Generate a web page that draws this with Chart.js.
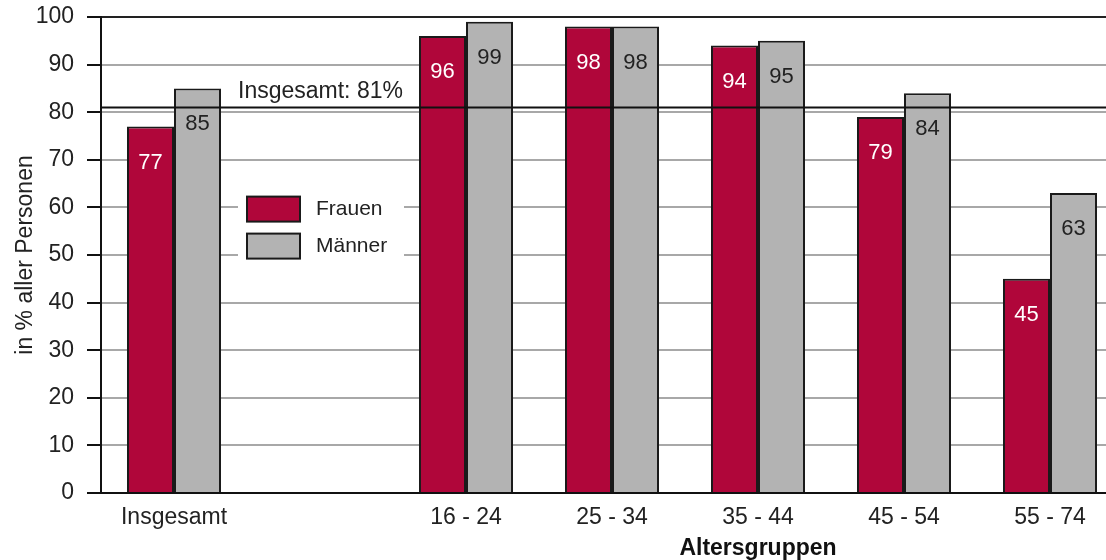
<!DOCTYPE html>
<html>
<head>
<meta charset="utf-8">
<script src="https://cdn.jsdelivr.net/npm/chart.js@4.4.0/dist/chart.umd.min.js"></script>
<style>
  html, body { margin: 0; padding: 0; background: #fff; overflow: hidden; }
  #wrap { width: 1124px; height: 560px; }
</style>
</head>
<body>
<div id="wrap"><canvas id="chart" width="1124" height="560"></canvas></div>
<script>
// categories (second slot is an empty gap in the original chart)
const categories = ["Insgesamt", "", "16 - 24", "25 - 34", "35 - 44", "45 - 54", "55 - 74"];
const frauen = [77, null, 96, 98, 94, 79, 45];
const maenner = [85, null, 99, 98, 95, 84, 63];
const yTicks = [0, 10, 20, 30, 40, 50, 60, 70, 80, 90, 100];
const totalValue = 81;
const totalLabel = "Insgesamt: 81%";

const FONT = "'Liberation Sans', Arial, Helvetica, sans-serif";
const RED = "#b0063a";
const GREY = "#b3b3b3";
const EDGE = "#1a1a1a";

// draws total line, value labels, legend and x title
const extras = {
  id: "extras",
  afterDatasetsDraw(chart) {
    const ctx = chart.ctx;
    const area = chart.chartArea;
    const y = chart.scales.y;
    const x = chart.scales.x;

    // value labels inside bars
    ctx.save();
    ctx.font = "22px " + FONT;
    ctx.textAlign = "center";
    ctx.textBaseline = "middle";
    chart.data.datasets.forEach((ds, i) => {
      const meta = chart.getDatasetMeta(i);
      meta.data.forEach((bar, j) => {
        if (ds.data[j] == null) return;
        ctx.fillStyle = i === 0 ? "#ffffff" : "#222222";
        ctx.fillText(String(ds.data[j]), bar.x, bar.y + 36);
      });
    });
    ctx.restore();

    // overall reference line
    const ly = y.getPixelForValue(totalValue);
    ctx.save();
    ctx.strokeStyle = "#111";
    ctx.lineWidth = 2;
    ctx.beginPath();
    ctx.moveTo(area.left, ly);
    ctx.lineTo(area.right, ly);
    ctx.stroke();
    ctx.fillStyle = "#222";
    ctx.font = "23px " + FONT;
    ctx.textAlign = "left";
    ctx.textBaseline = "alphabetic";
    ctx.fillText(totalLabel, area.left + 137, ly - 9);
    ctx.restore();

    // legend
    ctx.save();
    const lx = area.left + 137;
    const ly0 = y.getPixelForValue(65);
    ctx.fillStyle = "#fff";
    ctx.fillRect(lx, ly0, 166, 97);
    const items = [["Frauen", RED], ["Männer", GREY]];
    items.forEach((it, k) => {
      const top = ly0 + 13 + k * 37;
      ctx.fillStyle = it[1];
      ctx.fillRect(lx + 9, top, 53, 25);
      ctx.strokeStyle = EDGE;
      ctx.lineWidth = 2;
      ctx.strokeRect(lx + 9, top, 53, 25);
      ctx.fillStyle = "#222";
      ctx.font = "21px " + FONT;
      ctx.textBaseline = "middle";
      ctx.fillText(it[0], lx + 78, top + 13);
    });
    ctx.restore();

    // x axis title
    ctx.save();
    ctx.fillStyle = "#111";
    ctx.font = "bold 23px " + FONT;
    ctx.textAlign = "center";
    ctx.textBaseline = "alphabetic";
    ctx.fillText("Altersgruppen", x.getPixelForValue(4), 555);
    ctx.restore();
  }
};

new Chart(document.getElementById("chart"), {
  type: "bar",
  data: {
    labels: categories,
    datasets: [
      { label: "Frauen", data: frauen, backgroundColor: RED, borderColor: EDGE, borderWidth: 2 },
      { label: "Männer", data: maenner, backgroundColor: GREY, borderColor: EDGE, borderWidth: 2 }
    ]
  },
  options: {
    responsive: false,
    animation: false,
    layout: { padding: { left: 0, right: 1, top: 17, bottom: 0 } },
    datasets: { bar: { categoryPercentage: 0.644, barPercentage: 1.0 } },
    plugins: { legend: { display: false }, tooltip: { enabled: false } },
    scales: {
      x: {
        grid: { display: false, drawTicks: false },
        border: { display: true, color: "#111", width: 2 },
        ticks: { color: "#222", font: { family: FONT, size: 23 }, padding: 11, maxRotation: 0, autoSkip: false },
        afterFit(s) { s.height = 67; }
      },
      y: {
        min: 0,
        max: 100,
        afterBuildTicks(s) { s.ticks = yTicks.map(v => ({ value: v })); },
        grid: {
          color: c => (c.tick && c.tick.value === 100 ? "#222" : "#a8a8a8"),
          lineWidth: 2,
          tickLength: 14,
          tickColor: "#111"
        },
        border: { display: true, color: "#111", width: 2 },
        ticks: { color: "#222", font: { family: FONT, size: 23 }, padding: 13 },
        title: { display: true, text: "in % aller Personen", color: "#222", font: { family: FONT, size: 23 }, padding: { top: 12, bottom: 0 } },
        afterFit(s) { s.width = 101; s.paddingTop = 0; s.paddingBottom = 0; }
      }
    }
  },
  plugins: [extras]
});
</script>
</body>
</html>
